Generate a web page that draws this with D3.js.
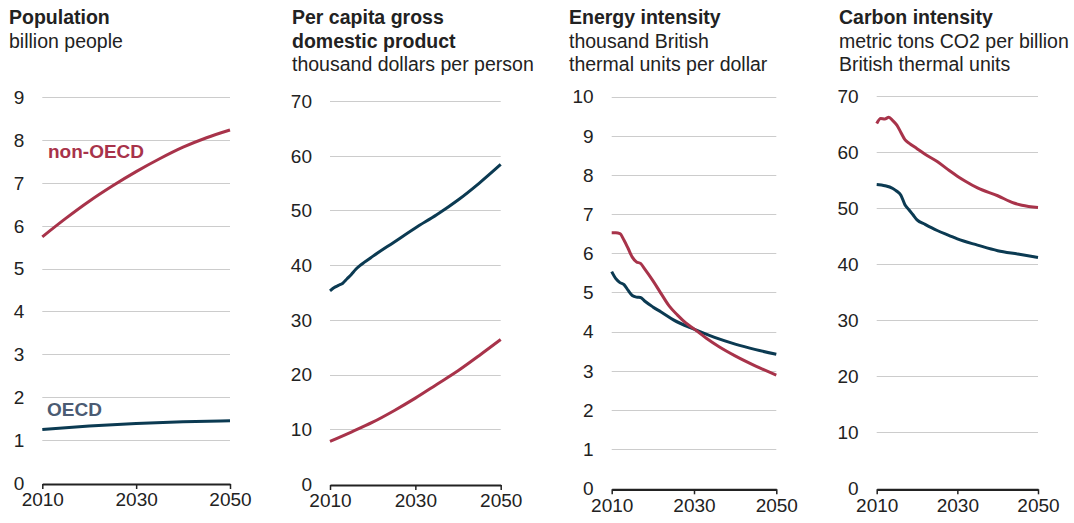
<!DOCTYPE html>
<html>
<head>
<meta charset="utf-8">
<script src="https://cdn.jsdelivr.net/npm/d3@7"></script>
<style>
  html, body { margin: 0; padding: 0; background: #fff; }
  svg { display: block; font-family: "Liberation Sans", Arial, sans-serif; }
</style>
</head>
<body>
<svg id="chart" width="1074" height="523"></svg>
<script>
// ---------- DATA ----------
const xTickLabels = [2010, 2030, 2050];

// Population (billion people)
const popTicks = [0, 1, 2, 3, 4, 5, 6, 7, 8, 9];
const popNonOecdYears = [2010, 2015, 2020, 2025, 2030, 2035, 2040, 2045, 2050];
const popNonOecd      = [5.74, 6.17, 6.57, 6.93, 7.26, 7.56, 7.83, 8.05, 8.23];
const popOecdYears = [2010, 2020, 2030, 2040, 2050];
const popOecd      = [1.25, 1.33, 1.39, 1.43, 1.45];

// GDP per capita (thousand dollars per person)
const gdpTicks = [0, 10, 20, 30, 40, 50, 60, 70];
const gdpOecdYears = [2010, 2011, 2012, 2013, 2014, 2015, 2016, 2017, 2018, 2020, 2025, 2030, 2035, 2040, 2045, 2050];
const gdpOecd      = [35.3, 35.9, 36.3, 36.7, 37.5, 38.3, 39.2, 39.9, 40.5, 41.6, 44.2, 46.8, 49.2, 51.9, 55.0, 58.4];
const gdpNonOecdYears = [2010, 2015, 2020, 2025, 2030, 2035, 2040, 2045, 2050];
const gdpNonOecd      = [7.8, 9.5, 11.3, 13.4, 15.7, 18.2, 20.7, 23.5, 26.4];

// Energy intensity (thousand Btu per dollar)
const energyTicks = [0, 1, 2, 3, 4, 5, 6, 7, 8, 9, 10];
const energyNonOecdYears = [2010, 2011, 2012, 2013, 2014, 2015, 2016, 2017, 2018, 2020, 2022, 2024, 2026, 2028, 2030, 2033, 2036, 2040, 2045, 2050];
const energyNonOecd      = [6.52, 6.52, 6.50, 6.33, 6.12, 5.90, 5.78, 5.74, 5.60, 5.30, 4.97, 4.65, 4.42, 4.22, 4.07, 3.83, 3.62, 3.38, 3.12, 2.89];
const energyOecdYears = [2010, 2011, 2012, 2013, 2014, 2015, 2016, 2017, 2018, 2020, 2022, 2025, 2030, 2035, 2040, 2045, 2050];
const energyOecd      = [5.53, 5.35, 5.25, 5.20, 5.05, 4.92, 4.88, 4.87, 4.78, 4.63, 4.50, 4.30, 4.06, 3.85, 3.68, 3.54, 3.42];

// Carbon intensity (metric tons CO2 per billion Btu)
const carbonTicks = [0, 10, 20, 30, 40, 50, 60, 70];
const carbonNonOecdYears = [2010, 2011, 2012, 2013, 2014, 2015, 2016, 2017, 2018, 2020, 2022, 2025, 2028, 2030, 2032, 2035, 2040, 2044, 2046, 2050];
const carbonNonOecd      = [65.1, 66.0, 65.9, 66.2, 65.6, 64.8, 63.5, 62.2, 61.6, 60.6, 59.6, 58.3, 56.7, 55.7, 54.8, 53.6, 52.2, 50.9, 50.5, 50.1];
const carbonOecdYears = [2010, 2012, 2014, 2015, 2016, 2017, 2018, 2019, 2020, 2022, 2025, 2028, 2030, 2035, 2040, 2045, 2050];
const carbonOecd      = [54.2, 54.0, 53.5, 53.0, 52.3, 50.6, 49.7, 48.8, 47.9, 47.1, 46.0, 45.1, 44.5, 43.4, 42.4, 41.8, 41.2];

const titles = [
  { bold: ["Population"], normal: ["billion people"] },
  { bold: ["Per capita gross", "domestic product"], normal: ["thousand dollars per person"] },
  { bold: ["Energy intensity"], normal: ["thousand British", "thermal units per dollar"] },
  { bold: ["Carbon intensity"], normal: ["metric tons CO2 per billion", "British thermal units"] }
];

// ---------- STYLE / LAYOUT ----------
const RED = "#a8334a", NAVY = "#0b3a52", TEXT = "#222", GRID = "#cccccc";
const panels = [
  { titleX: 9,   x0: 42.3,  x1: 230,   y0: 483,   yTop: 97,   max: 9,  ticks: popTicks,
    series: [[popNonOecdYears, popNonOecd, RED], [popOecdYears, popOecd, NAVY]] },
  { titleX: 292, x0: 330,   x1: 500.7, y0: 484,   yTop: 101,  max: 70, ticks: gdpTicks,
    series: [[gdpNonOecdYears, gdpNonOecd, RED], [gdpOecdYears, gdpOecd, NAVY]] },
  { titleX: 569, x0: 611.7, x1: 776.3, y0: 488.3, yTop: 96.5, max: 10, ticks: energyTicks,
    series: [[energyOecdYears, energyOecd, NAVY], [energyNonOecdYears, energyNonOecd, RED]] },
  { titleX: 839, x0: 876.7, x1: 1038,  y0: 488.3, yTop: 96,   max: 70, ticks: carbonTicks,
    series: [[carbonNonOecdYears, carbonNonOecd, RED], [carbonOecdYears, carbonOecd, NAVY]] }
];

const svg = d3.select("#chart");

panels.forEach((p, i) => {
  const g = svg.append("g");
  const x = d3.scaleLinear().domain([2010, 2050]).range([p.x0, p.x1]);
  const y = d3.scaleLinear().domain([0, p.max]).range([p.y0, p.yTop]);

  // titles
  const t = titles[i];
  let line = 0;
  t.bold.forEach(s => {
    g.append("text").attr("x", p.titleX).attr("y", 24 + line * 23.5)
      .attr("font-size", 19.5).attr("font-weight", "bold").attr("fill", TEXT).text(s);
    line++;
  });
  t.normal.forEach(s => {
    g.append("text").attr("x", p.titleX).attr("y", 24 + line * 23.5)
      .attr("font-size", 19.5).attr("fill", TEXT).text(s);
    line++;
  });

  // gridlines (non-zero)
  g.selectAll("line.grid").data(p.ticks.filter(d => d !== 0)).join("line")
    .attr("class", "grid")
    .attr("x1", p.x0).attr("x2", p.x1)
    .attr("y1", d => Math.round(y(d)) + 0.5).attr("y2", d => Math.round(y(d)) + 0.5)
    .attr("stroke", GRID).attr("stroke-width", 1.2);

  // y labels
  g.selectAll("text.ylab").data(p.ticks).join("text")
    .attr("class", "ylab")
    .attr("x", p.x0 - 18).attr("y", d => y(d)).attr("dy", "0.36em")
    .attr("text-anchor", "end").attr("font-size", 19).attr("fill", TEXT)
    .text(d => d);

  // x axis
  const axis = d3.axisBottom(x).tickValues(xTickLabels).tickFormat(d3.format("d"))
    .tickSize(5).tickSizeOuter(0).tickPadding(4);
  const ax = g.append("g").attr("transform", `translate(0,${p.y0 + 1})`).call(axis);
  ax.select(".domain").attr("stroke", TEXT).attr("stroke-width", 2.2);
  ax.selectAll(".tick line").attr("stroke", TEXT).attr("stroke-width", 1.5);
  ax.selectAll(".tick text").attr("font-size", 19).attr("fill", TEXT)
    .attr("font-family", "Liberation Sans, Arial, sans-serif");

  // lines
  const lineGen = d3.line().x(d => x(d[0])).y(d => y(d[1])).curve(d3.curveMonotoneX);
  p.series.forEach(([yrs, vals, col]) => {
    const pts = yrs.map((yr, k) => [yr, vals[k]]);
    g.append("path").datum(pts).attr("d", lineGen)
      .attr("fill", "none").attr("stroke", col).attr("stroke-width", 3)
      .attr("stroke-linejoin", "round").attr("stroke-linecap", "butt");
  });

  if (i === 0) {
    g.append("text").attr("x", 48).attr("y", 158).attr("font-size", 19)
      .attr("font-weight", "bold").attr("fill", RED).text("non-OECD");
    g.append("text").attr("x", 47).attr("y", 416).attr("font-size", 19)
      .attr("font-weight", "bold").attr("fill", "#4b5b73").text("OECD");
  }
});
</script>
</body>
</html>
